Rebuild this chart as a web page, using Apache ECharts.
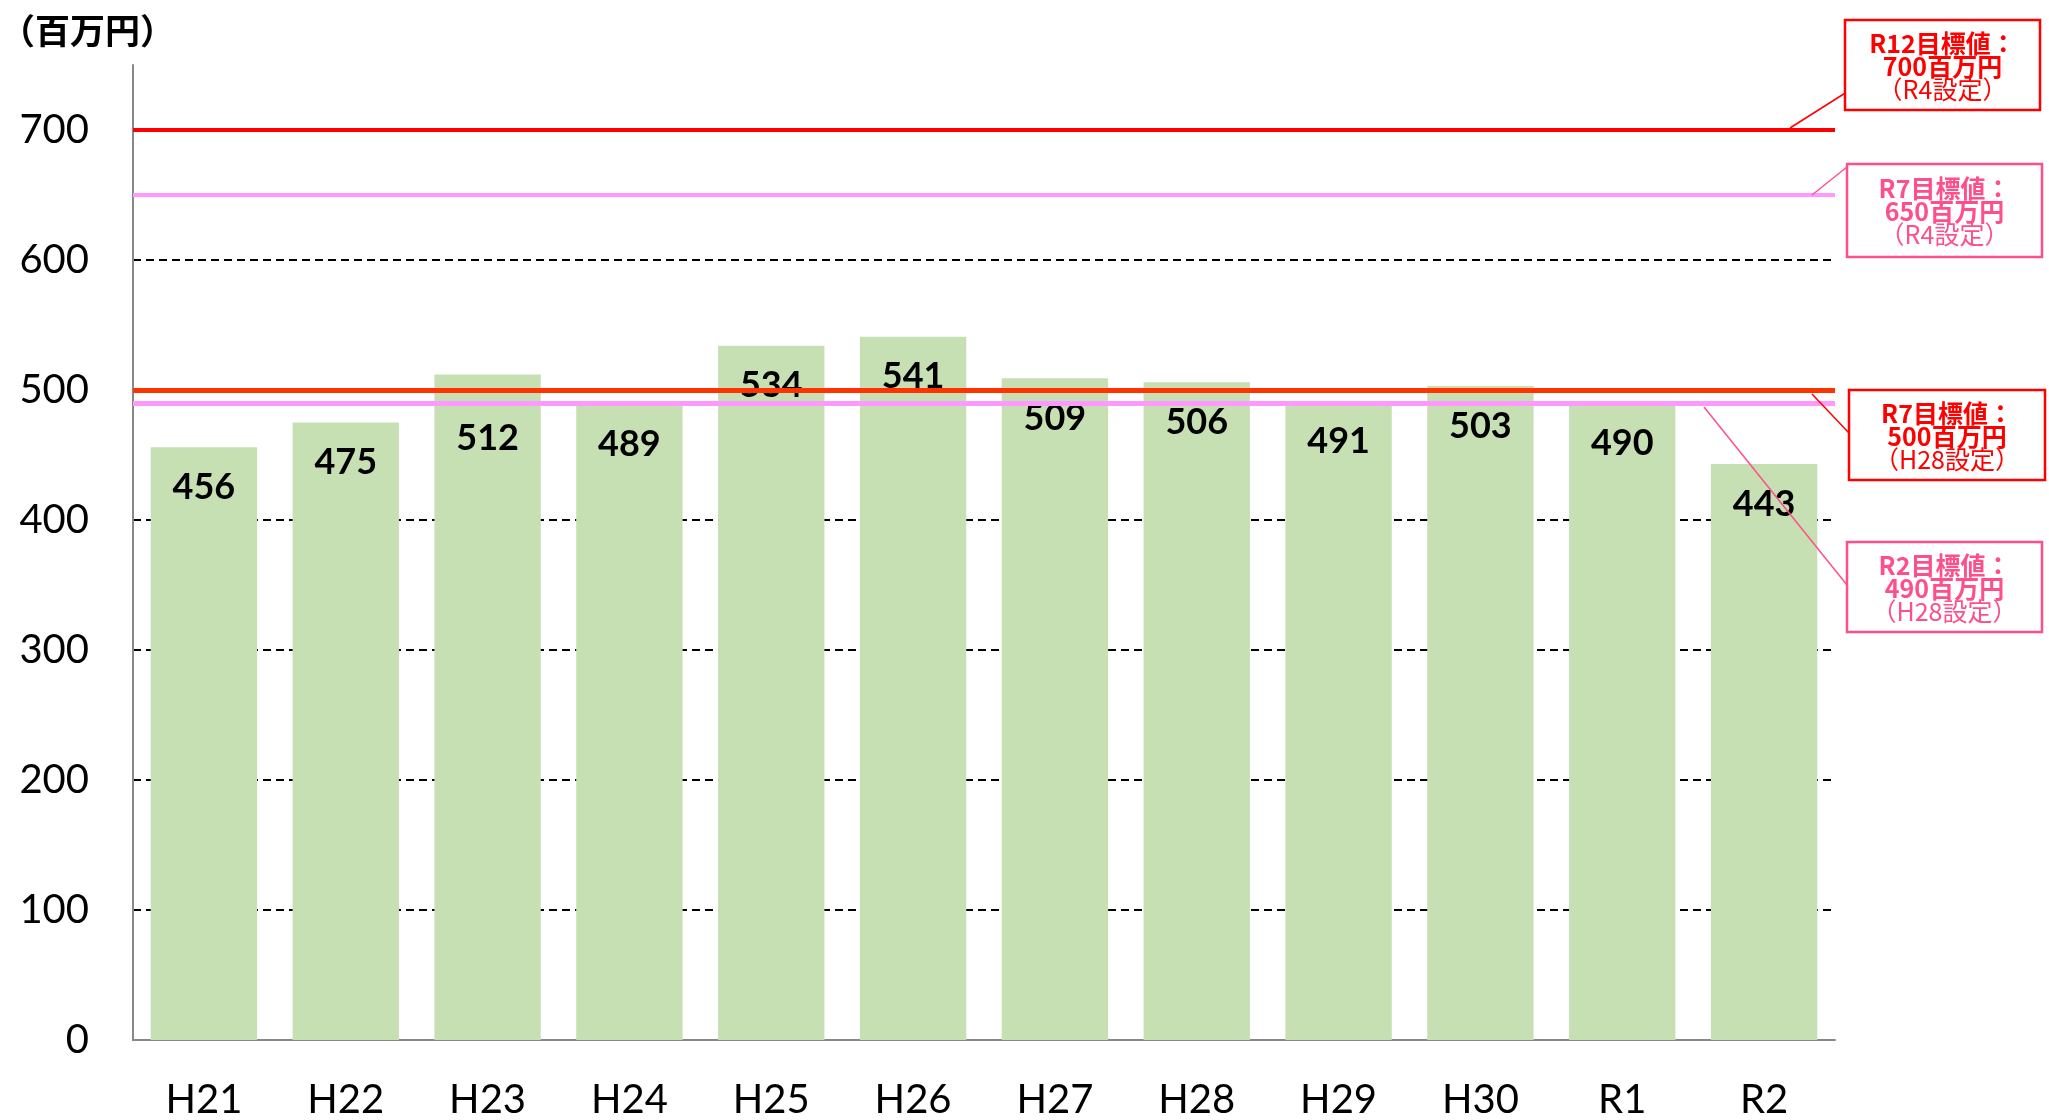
<!DOCTYPE html>
<html><head><meta charset="utf-8">
<script src="https://cdn.jsdelivr.net/npm/echarts@6/dist/echarts.min.js"></script>
<style>html,body{margin:0;padding:0;background:#fff}#c{width:2049px;height:1120px}</style>
</head><body><div id="c"></div>
<script>
// ---- data ----
const categories = ['H21','H22','H23','H24','H25','H26','H27','H28','H29','H30','R1','R2'];
const amounts = [456,475,512,489,534,541,509,506,491,503,490,443];
const yTickLabels = ['0','100','200','300','400','500','600','700'];
const targetValues = [700,650,500,490];
const targetTitles = ['R12目標値：','R7目標値：','R7目標値：','R2目標値：'];
const targetAmounts = ['700百万円','650百万円','500百万円','490百万円'];
const targetNotes = ['（R4設定）','（R4設定）','（H28設定）','（H28設定）'];
const unitLabel = '（百万円）';

// ---- styles / layout ----
const FONT = 'Lato, "Noto Sans CJK JP", sans-serif';
const CJK = '"Noto Sans CJK JP", sans-serif';
const RED = '#FF0000', PINK_LINE = '#FF99FF', ORANGE = '#FF3300', PINK_TXT = '#FF4F8B';
const lineColors = [RED, PINK_LINE, ORANGE, PINK_LINE];
const boxColors = [RED, PINK_TXT, RED, PINK_TXT];
const lineWidths = [4, 4, 5, 5];
const GRID = {left: 133, right: 214, top: 65, bottom: 80};
const labelShiftIndex = 2; // label moved down below target line in the original

const chart = echarts.init(document.getElementById('c'), null, {renderer: 'canvas'});
chart.setOption({
  animation: false,
  backgroundColor: '#fff',
  title: {text: unitLabel, left: 0, top: 13, padding: 0,
    textStyle: {fontSize: 35, fontWeight: 'bold', color: '#000', fontFamily: CJK}},
  grid: GRID,
  xAxis: {
    type: 'category', data: categories,
    axisLine: {lineStyle: {color: '#888', width: 2}},
    axisTick: {show: false},
    axisLabel: {fontSize: 40, color: '#000', fontFamily: FONT, margin: 40}
  },
  yAxis: {
    type: 'value', min: 0, max: 750, interval: 100,
    axisLine: {show: true, lineStyle: {color: '#888', width: 2}},
    axisTick: {show: false},
    axisLabel: {fontSize: 40, color: '#000', fontFamily: FONT, margin: 44, showMaxLabel: false,
      formatter: v => yTickLabels.indexOf(String(v)) >= 0 ? String(v) : ''},
    splitLine: {show: true, showMaxLine: false, lineStyle: {color: '#000', width: 2, type: [8, 5]}}
  },
  series: [{
    type: 'bar',
    data: amounts.map((v, i) => i === labelShiftIndex ? {value: v, label: {distance: 46}} : v),
    barWidth: '75%',
    itemStyle: {color: '#C6E0B4'},
    label: {show: true, position: 'insideTop', distance: 22, fontSize: 36, fontWeight: 'bold',
      color: '#000', fontFamily: FONT},
    markLine: {
      z: 10, silent: true, symbol: ['none', 'none'], label: {show: false},
      data: targetValues.map((v, i) => ({yAxis: v,
        lineStyle: {color: lineColors[i], width: lineWidths[i], type: 'solid'}}))
    }
  }]
});

// ---- annotation callouts ----
const yPx = v => chart.convertToPixel({yAxisIndex: 0}, v);
const boxes = [
  {x: 1845, y: 20, w: 195, h: 90},
  {x: 1847, y: 164, w: 195, h: 93},
  {x: 1849, y: 390, w: 196, h: 90},
  {x: 1847, y: 542, w: 195, h: 90}
];
const leaders = [
  [1850, 90, 1790, yPx(targetValues[0]) - 2],
  [1847, 167, 1812, yPx(targetValues[1])],
  [1812, yPx(targetValues[2]) + 4, 1849, 433],
  [1704, yPx(targetValues[3]) + 4, 1847, 585]
];
const graphics = [];
boxes.forEach((b, i) => {
  const c = boxColors[i];
  graphics.push({type: 'line', z: 20, silent: true,
    shape: {x1: leaders[i][0], y1: leaders[i][1], x2: leaders[i][2], y2: leaders[i][3]},
    style: {stroke: c, lineWidth: 1.5}});
  graphics.push({type: 'rect', z: 21, silent: true,
    shape: {x: b.x, y: b.y, width: b.w, height: b.h},
    style: {fill: '#fff', stroke: c, lineWidth: 2.5}});
  graphics.push({type: 'text', z: 22, silent: true,
    x: b.x + b.w / 2, y: b.y + b.h / 2 + 1,
    style: {
      text: '{b|' + targetTitles[i] + '}\n{b|' + targetAmounts[i] + '}\n{n|' + targetNotes[i] + '}',
      align: 'center', verticalAlign: 'middle',
      rich: {
        b: {fontSize: 25, fontWeight: 'bold', lineHeight: 23, fill: c, fontFamily: CJK},
        n: {fontSize: 25, lineHeight: 23, fill: c, fontFamily: CJK}
      }
    }});
});
chart.setOption({graphic: graphics});
</script>
</body></html>
